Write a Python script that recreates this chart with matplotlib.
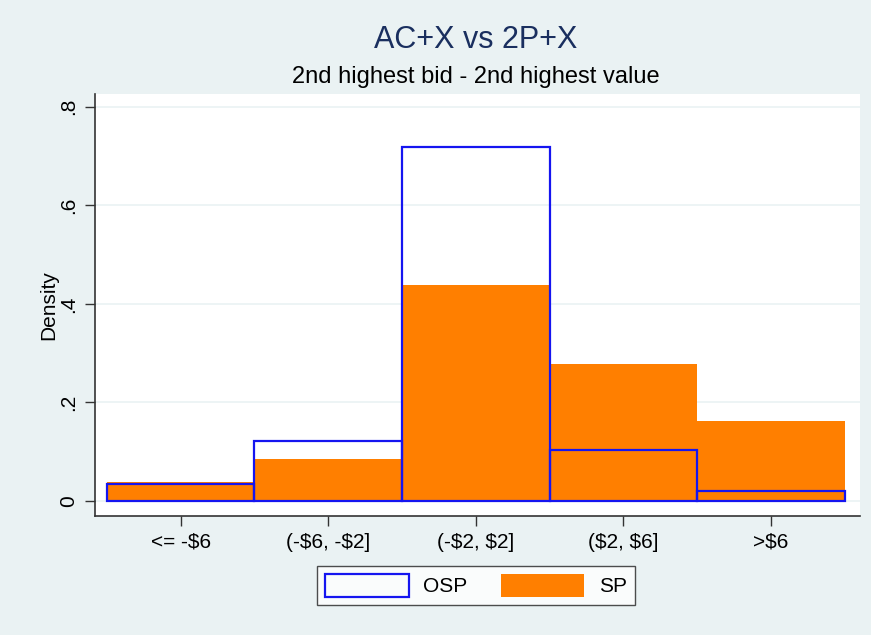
import matplotlib
matplotlib.use("Agg")
import matplotlib.pyplot as plt
import numpy as np

plt.rcParams['font.family'] = ['Liberation Sans', 'DejaVu Sans']
plt.rcParams['text.parse_math'] = False

categories = ["<= -$6", "(-$6, -$2]", "(-$2, $2]", "($2, $6]", ">$6"]
osp = [0.034, 0.122, 0.719, 0.104, 0.021]
sp = [0.039, 0.086, 0.438, 0.279, 0.163]
yticks = [0, 0.2, 0.4, 0.6, 0.8]
yticklabels = ["0", ".2", ".4", ".6", ".8"]

bg = "#EAF2F3"
fig = plt.figure(figsize=(8.71, 6.35), dpi=100, facecolor=bg)
ax = fig.add_axes([0.109, 0.187, 0.878, 0.665])
ax.set_facecolor("white")

x = np.arange(len(categories))
ax.bar(x, sp, width=1.0, color="#FF7F00", edgecolor="none", zorder=2, label="SP")
ax.bar(x, osp, width=1.0, facecolor="none", edgecolor="#1515F0", linewidth=1.6, zorder=3, label="OSP")

ax.set_xlim(-0.58, 4.6)
ax.set_ylim(-0.031, 0.826)
ax.set_xticks(x)
ax.set_xticklabels(categories, fontsize=15)
ax.set_yticks(yticks)
ax.set_yticklabels(yticklabels, fontsize=15, rotation=90, va="center")
ax.set_ylabel("Density", fontsize=15, labelpad=1)
ax.grid(axis="y", color=bg, linewidth=1.2, zorder=0)
ax.set_axisbelow(True)
for s in ["top", "right"]:
    ax.spines[s].set_visible(False)
for s in ["left", "bottom"]:
    ax.spines[s].set_color("#333333")
    ax.spines[s].set_linewidth(1.2)
ax.tick_params(axis="both", length=7, width=1, color="#333333", pad=5)

fig.text(0.546, 0.937, "AC+X vs 2P+X", ha="center", va="center", fontsize=22, color="#1A2F5F")
fig.text(0.546, 0.879, "2nd highest bid - 2nd highest value", ha="center", va="center", fontsize=17, color="black")

handles, labels = ax.get_legend_handles_labels()
order = [1, 0]
leg = fig.legend([handles[i] for i in order], [labels[i] for i in order],
                 loc="center", bbox_to_anchor=(0.5465, 0.078), ncol=2, fontsize=15,
                 frameon=True, fancybox=False, edgecolor="#222222",
                 handlelength=4.0, handleheight=1.3, handletextpad=0.7,
                 columnspacing=1.6, borderpad=0.4)
leg.get_frame().set_linewidth(1.0)

fig.savefig("out.png", dpi=100, facecolor=bg)
